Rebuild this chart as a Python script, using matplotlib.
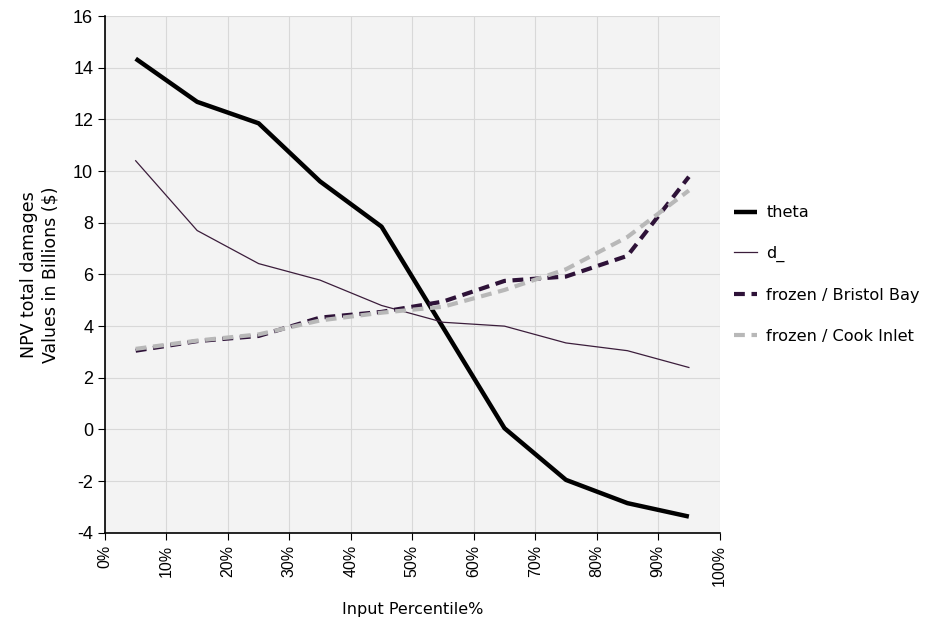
import matplotlib
matplotlib.use("Agg")
import matplotlib.pyplot as plt
import matplotlib.ticker as ticker

plt.rcParams["axes.unicode_minus"] = False

# percentile points (fractions)
percentiles = [0.05, 0.15, 0.25, 0.35, 0.45, 0.55, 0.65, 0.75, 0.85, 0.95]

theta        = [14.35, 12.68, 11.85, 9.6, 7.85, 3.95, 0.05, -1.95, -2.85, -3.37]
d_           = [10.4, 7.7, 6.42, 5.78, 4.8, 4.15, 4.0, 3.35, 3.05, 2.4]
bristol_bay  = [3.05, 3.42, 3.62, 4.33, 4.55, 4.95, 5.75, 5.92, 6.72, 9.78]
cook_inlet   = [3.12, 3.44, 3.68, 4.22, 4.52, 4.75, 5.4, 6.2, 7.45, 9.25]

x_ticks = [i / 10 for i in range(11)]

fig = plt.figure(figsize=(9.37, 6.42), dpi=100)
ax = fig.add_axes([0.112, 0.170, 0.656, 0.805])
ax.set_facecolor("#f3f3f3")

ax.plot(percentiles, theta, color="black", lw=3.2, label="theta", solid_capstyle="butt")
ax.plot(percentiles, d_, color="#3b1d3b", lw=0.9, label="d_")
ax.plot(percentiles, bristol_bay, color="#2e1238", lw=3.0, ls=(0, (2.6, 1.6)), label="frozen / Bristol Bay")
ax.plot(percentiles, cook_inlet, color="#b8b8b8", lw=3.0, ls=(0, (2.6, 1.6)), label="frozen / Cook Inlet")

ax.set_xlim(0, 1)
ax.set_ylim(-4, 16)
ax.set_xticks(x_ticks)
ax.xaxis.set_major_formatter(ticker.FuncFormatter(lambda v, p: f"{int(round(v * 100))}%"))
ax.set_yticks(range(-4, 17, 2))
ax.grid(True, color="#d8d8d8", lw=0.8)
ax.set_axisbelow(True)

for s in ["top", "right"]:
    ax.spines[s].set_visible(False)
for s in ["left", "bottom"]:
    ax.spines[s].set_color("black")
    ax.spines[s].set_linewidth(1.2)

ax.tick_params(axis="x", labelrotation=90, labelsize=11.5, length=5, direction="out")
ax.tick_params(axis="y", labelsize=13, length=5, direction="out")
for lbl in ax.get_xticklabels() + ax.get_yticklabels():
    lbl.set_fontfamily("Liberation Sans")

ax.set_xlabel("Input Percentile%", fontsize=11.5, labelpad=12)
ax.set_ylabel("NPV total damages\nValues in Billions ($)", fontsize=12.5, labelpad=10)

ax.legend(loc="center left", bbox_to_anchor=(1.0, 0.50), frameon=False,
          fontsize=11.6, handlelength=1.4, labelspacing=1.6, handletextpad=0.6)

fig.savefig("out.png", dpi=100)
